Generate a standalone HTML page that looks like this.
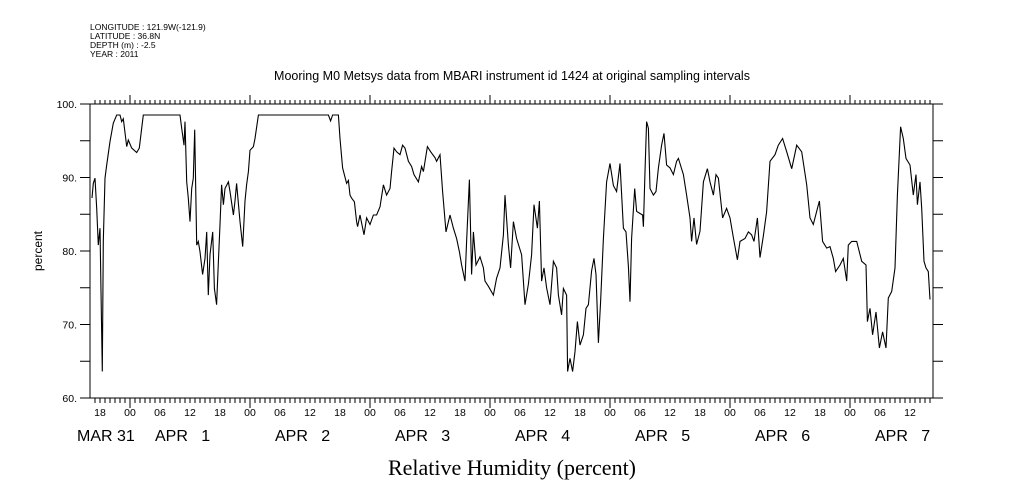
<!DOCTYPE html>
<html><head><meta charset="utf-8"><style>
body{margin:0;background:#fff;width:1009px;height:504px;overflow:hidden}
svg{display:block;font-family:"Liberation Sans",sans-serif}
</style></head><body>
<svg id="chart" width="1009" height="504" viewBox="0 0 1009 504">
<g font-size="8.5" fill="#000">
<text x="90" y="30">LONGITUDE : 121.9W(-121.9)</text>
<text x="90" y="39">LATITUDE : 36.8N</text>
<text x="90" y="48">DEPTH (m) : -2.5</text>
<text x="90" y="57">YEAR : 2011</text>
</g>
<text x="512" y="80" font-size="12.5" text-anchor="middle">Mooring M0 Metsys data from MBARI instrument id 1424 at original sampling intervals</text>
<text x="512" y="475" font-size="22" text-anchor="middle" font-family="Liberation Serif, serif">Relative Humidity (percent)</text>
<text transform="translate(42,251) rotate(-90)" font-size="12" text-anchor="middle">percent</text>
<g id="axes"></g>
<path id="line" fill="none" stroke="#000" stroke-width="1.1"/>
</svg>
<script>
// hours since APR 1 00:00
const hours=[-7.6,-7.33,-7,-6.67,-6.33,-6,-5.8,-5.53,-5.33,-5,-4.67,-4,-3.33,-2.67,-2,-1.67,-1.33,-0.67,-0.33,0.33,1.33,1.87,2.67,10,10.33,10.8,11,11.33,11.67,12,12.33,12.67,12.93,13.33,13.67,14,14.53,15,15.33,15.67,16,16.53,16.87,17.33,17.67,18,18.33,18.67,19,19.67,20,20.67,21,21.33,22,22.53,23,23.33,23.67,24,24.67,25,25.67,39.67,40.13,40.53,41.67,42,42.53,43.33,43.67,44,44.33,44.87,45.33,45.53,46,
46.8,47.33,48,48.67,49.33,50,50.67,51.33,52,52.33,52.8,53.33,54,54.53,55,55.67,56.33,56.8,57.67,58.33,58.67,59.47,60.13,61,61.33,62,62.53,63.2,64,64.67,65.33,65.87,66.33,67,67.33,67.87,68.33,68.67,69.2,70,70.67,71,71.67,72.67,73.33,74,74.67,75,75.67,76.13,76.67,77.33,78.33,79,79.67,80.33,80.8,81.47,81.87,82.33,82.8,83.33,84,84.67,85.33,85.67,86.33,86.67,87.33,87.53,88,88.53,89,89.47,90,90.67,91.2,91.67,92.33,92.8,93.2,93.67,94.13,94.67,95.33,96,96.67,97.33,98,98.67,99.2,99.67,100,100.33,100.93,101.33,
102,102.53,102.67,103,103.33,103.67,104,104.67,105.2,105.67,106.33,106.8,107.33,108,108.67,109.33,109.67,110.67,111.33,112,112.33,112.8,113.33,114,114.67,115.47,116,116.67,117.2,117.67,118.53,119.33,120,120.67,121.47,122,123,123.67,124.33,124.8,125.47,126,126.67,127.33,128,129,129.67,130.53,131.33,132.33,133.33,134.33,135.33,136,136.67,137.33,137.87,138.53,139.33,140,140.67,141.13,142,142.67,143.33,143.67,144.33,145.33,146.33,147.2,147.47,148,148.53,149.2,149.87,150.53,151.2,151.67,152.33,153,153.47,154.13,154.67,155.2,156,156.67,157.2,157.47,158,158.33,158.8,159.2,159.67,160];
const rh=[87.2,89.2,89.9,85.8,80.8,83.1,74.5,63.6,81.3,89.9,91.7,94.9,97.4,98.5,98.5,97.6,98,94.2,95.1,94,93.4,94,98.5,98.5,96.7,94.4,97.6,89.4,87.2,84,88.5,89.9,96.5,80.8,81.3,79.9,76.8,79,82.6,74,79.5,82.6,74.9,72.7,78.6,83.6,89,86.3,88.5,89.4,88.1,84.9,86.8,89.2,84,80.6,86.8,89,90.8,93.7,94.2,95.3,98.5,98.5,97.7,98.5,98.5,95.3,91.3,89.2,89.6,87.6,87.2,86.7,84,83.3,84.9,
82.2,84.5,83.6,84.9,84.9,86,89,87.6,88.5,90.8,94,93.5,93.1,94.4,94,92.2,91.5,90.4,89.4,91.5,90.8,94.2,93.5,92.7,92.2,93.1,88.1,82.6,84.9,83.1,81.7,79.9,78.1,75.9,81.3,89.7,76.8,82.6,78.1,79.2,77.7,75.9,75.2,74,76.3,77.7,82.2,87.6,80.8,77.7,84,81.7,79.5,72.7,75.5,79.5,86.3,83.1,86.8,75.9,77.7,75,72.7,78.6,77.7,74,71.3,74.9,74,63.6,65.4,63.6,66.3,70.4,67.2,68.6,72.2,72.7,77.3,79,76.8,67.5,73.1,81.7,89.4,91.9,88.9,88.1,91.9,83.1,82.6,77.9,73.1,81.7,88.5,85.4,
85.1,84.9,83.3,90.8,97.6,96.7,88.5,87.6,88.1,91.3,94.4,96,91.7,91.3,90.4,92.2,92.6,90.4,87.6,84.5,81.3,84.5,80.9,82.7,89.4,91.2,89.4,87.6,90.4,89.9,84.5,85.8,84.5,81.8,78.8,81.3,81.7,82.6,82.2,81.3,84.5,79.1,82.1,85.3,92.2,93.1,94.4,95.3,93.5,91.2,94.4,93.5,89,84.5,83.6,85.4,86.8,81.3,80.4,80.6,79,77.2,78.1,79,75.9,80.8,81.3,81.3,78.6,78.1,70.4,72.2,68.6,71.7,66.8,69,66.8,73.6,74.5,77.7,87.6,96.9,95.3,92.6,91.7,87.6,90.4,86.3,89.4,85.8,78.6,77.7,77.2,73.4];
const yTicks=[60,70,80,90,100];
const yTickLabels=["60.","70.","80.","90.","100."];
const hourLabels=["18","00","06","12","18","00","06","12","18","00","06","12","18","00","06","12","18","00","06","12","18","00","06","12","18","00","06","12"];
const dateLabels=["MAR 31","APR   1","APR   2","APR   3","APR   4","APR   5","APR   6","APR   7"];
const L=90,R=933,T=104,B=398;
const xS=h=>130+5*h;
const yS=v=>B-(v-60)/40*(B-T);
const NS="http://www.w3.org/2000/svg";
const ax=document.getElementById('axes');
function mk(tag,attrs,txt){const e=document.createElementNS(NS,tag);for(const k in attrs)e.setAttribute(k,attrs[k]);if(txt!==undefined)e.textContent=txt;ax.appendChild(e);return e;}
let d=`M${L},${T}H${R}V${B}H${L}Z`;
for(let h=-7;h<=160;h++){const x=xS(h);const big=((h%24)+24)%24===0;
 d+=`M${x},${T}v${big?-9:-4}M${x},${B}v${big?10:5}`;}
for(let v=60;v<=100;v+=5){const y=yS(v);d+=`M${L},${y}h-10M${R},${y}h10`;}
const fr=mk('path',{d:d,stroke:'#000',fill:'none','stroke-width':1});


yTicks.forEach((v,i)=>{const t=mk('text',{x:77,y:yS(v)+4,'font-size':10.5,'text-anchor':'end'},yTickLabels[i]);
 
 });
hourLabels.forEach((s,i)=>{const t=mk('text',{x:xS(-6+6*i),y:416,'font-size':10.5,'text-anchor':'middle'},s);
 
 });
dateLabels.forEach((s,i)=>{const x=i===0?77:xS(24*(i-1)+12)-35;
 const t=mk('text',{x:x,y:441,'font-size':16},s);t.style.whiteSpace='pre';
 
 });
document.getElementById('line').setAttribute('d',hours.map((h,i)=>(i?'L':'M')+xS(h).toFixed(1)+','+yS(rh[i]).toFixed(1)).join(''));
</script>
</body></html>
